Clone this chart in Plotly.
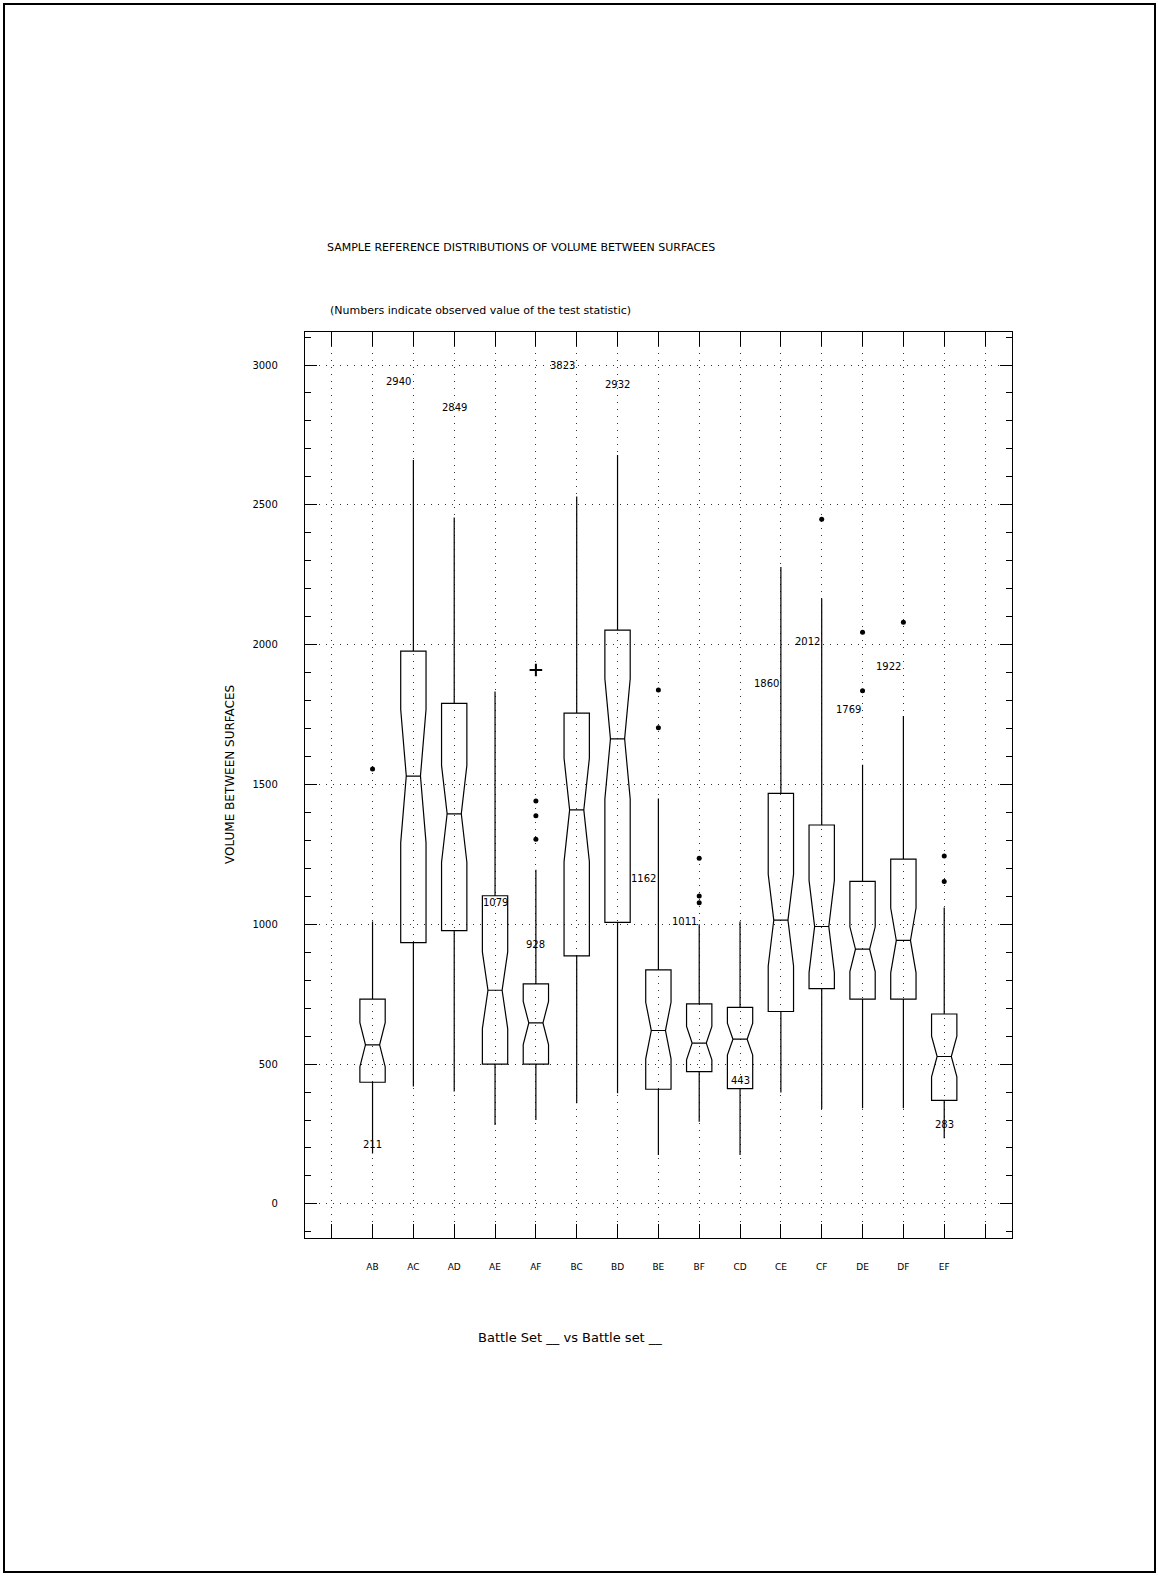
import plotly.graph_objects as go

# ---------------- data ----------------
categories = ["AB", "AC", "AD", "AE", "AF", "BC", "BD", "BE", "BF", "CD",
              "CE", "CF", "DE", "DF", "EF"]
q1 = [435, 934, 977, 500, 500, 887, 1007, 410, 473, 412, 688, 770, 732, 732, 370]
median = [569, 1530, 1395, 764, 647, 1409, 1663, 620, 575, 589, 1015, 992, 911, 942, 527]
q3 = [732, 1977, 1790, 1102, 787, 1755, 2052, 837, 715, 703, 1468, 1355, 1153, 1233, 679]
whisker_low = [180, 420, 402, 282, 300, 360, 396, 175, 294, 175, 398, 339, 342, 342, 235]
whisker_high = [1010, 2660, 2455, 1832, 1195, 2530, 2678, 1450, 1000, 1010, 2278, 2165, 1570, 1745, 1060]
notch_half = [79, 238, 173, 137, 77, 185, 215, 101, 60, 57, 164, 165, 80, 116, 73]
outliers = [[1555], [], [], [], [1304, 1388, 1441], [], [], [1703, 1838],
            [1077, 1101, 1236], [], [], [2448], [1835, 2044], [2080], [1153, 1244]]
extreme_outliers = [[], [], [], [], [1909], [], [], [], [], [], [], [], [], [], []]
observed = [211, 2940, 2849, 1079, 928, 3823, 2932, 1162, 1011, 443, 1860, 2012, 1769, 1922, 283]
y_tick_values = [0, 500, 1000, 1500, 2000, 2500, 3000]

title_text = "SAMPLE REFERENCE DISTRIBUTIONS OF VOLUME BETWEEN SURFACES"
subtitle_text = "(Numbers indicate observed value of the test statistic)"
y_title = "VOLUME BETWEEN SURFACES"
x_title = "Battle Set __ vs Battle set __"

# label alignment style (right = text ends at the category line)
label_align = ["center", "right", "center", "center", "center", "right", "center", "right",
               "right", "center", "right", "right", "right", "right", "center"]

# ---------------- figure ----------------
positions = list(range(1, len(categories) + 1))
y_cap = max(y_tick_values)

fig = go.Figure()

fig.add_trace(go.Box(
    x=positions,
    q1=q1, median=median, q3=q3,
    lowerfence=whisker_low, upperfence=whisker_high,
    notchspan=notch_half,
    notched=True, notchwidth=0.22,
    width=0.62, whiskerwidth=0,
    boxpoints=False,
    line=dict(color="black", width=1.2),
    fillcolor="rgba(0,0,0,0)",
    showlegend=False, hoverinfo="skip",
))

ox, oy = [], []
for p, vals in zip(positions, outliers):
    for v in vals:
        ox.append(p)
        oy.append(v)
fig.add_trace(go.Scatter(x=ox, y=oy, mode="markers",
                         marker=dict(color="black", size=5, symbol="circle"),
                         showlegend=False, hoverinfo="skip"))

ex, ey = [], []
for p, vals in zip(positions, extreme_outliers):
    for v in vals:
        ex.append(p)
        ey.append(v)
fig.add_trace(go.Scatter(x=ex, y=ey, mode="markers",
                         marker=dict(color="black", size=9, symbol="cross-thin",
                                     line=dict(color="black", width=2)),
                         showlegend=False, hoverinfo="skip"))

annotations = []
for p, v, al in zip(positions, observed, label_align):
    annotations.append(dict(
        x=p, y=min(v, y_cap), xref="x", yref="y", text=str(v), showarrow=False,
        xanchor=al, yanchor="middle", font=dict(size=10, color="black",
                                                family="DejaVu Sans")))

# titles
L, R, T, B = 305, 146, 332, 338
W, H = 1158, 1576
pw, ph = W - L - R, H - T - B


def px_x(px):
    return (px - L) / pw


def px_y(py):
    return (H - B - py) / ph


annotations.append(dict(x=px_x(325), y=px_y(247), xref="paper", yref="paper",
                        text=title_text, showarrow=False, xanchor="left", yanchor="middle",
                        font=dict(size=11, color="black", family="DejaVu Sans")))
annotations.append(dict(x=px_x(328), y=px_y(310), xref="paper", yref="paper",
                        text=subtitle_text, showarrow=False, xanchor="left", yanchor="middle",
                        font=dict(size=11, color="black", family="DejaVu Sans")))
annotations.append(dict(x=px_x(230), y=px_y(775), xref="paper", yref="paper",
                        text=y_title, showarrow=False, textangle=-90,
                        xanchor="center", yanchor="middle",
                        font=dict(size=12, color="black", family="DejaVu Sans")))
annotations.append(dict(x=px_x(570), y=px_y(1337), xref="paper", yref="paper",
                        text=x_title, showarrow=False, xanchor="center", yanchor="middle",
                        font=dict(size=13, color="black", family="DejaVu Sans")))

shapes = [dict(type="rect", xref="paper", yref="paper",
               x0=px_x(4), x1=px_x(1155), y0=px_y(1572), y1=px_y(4),
               line=dict(color="black", width=2), fillcolor="rgba(0,0,0,0)", layer="below")]

grid_dash = "1px,6px"
fig.update_layout(
    width=W, height=H,
    margin=dict(l=L, r=R, t=T, b=B, pad=0),
    paper_bgcolor="white", plot_bgcolor="white",
    showlegend=False,
    font=dict(family="DejaVu Sans", color="black", size=10),
    annotations=annotations,
    shapes=shapes,
    xaxis=dict(
        range=[-0.654, 16.66],
        tickmode="array",
        tickvals=[0] + positions + [len(categories) + 1],
        ticktext=[""] + categories + [""],
        ticks="inside", ticklen=14, tickwidth=1.2, tickcolor="black",
        showline=True, linecolor="black", linewidth=1.3, mirror="ticks",
        showgrid=True, gridcolor="#333333", gridwidth=1, griddash=grid_dash,
        zeroline=False,
        tickfont=dict(size=9, color="black"),
        ticklabelstandoff=20,
    ),
    yaxis=dict(
        range=[-122, 3118],
        tickmode="array", tickvals=y_tick_values,
        ticktext=[str(v) for v in y_tick_values],
        ticks="inside", ticklen=12, tickwidth=1.2, tickcolor="black",
        minor=dict(dtick=100, tick0=0, ticks="inside", ticklen=6, tickcolor="black",
                   tickwidth=1, showgrid=False),
        showline=True, linecolor="black", linewidth=1.3, mirror="ticks",
        showgrid=True, gridcolor="#333333", gridwidth=1, griddash=grid_dash,
        zeroline=False,
        tickfont=dict(size=10, color="black"),
        ticklabelstandoff=24,
    ),
)

fig.write_html("out.html")
